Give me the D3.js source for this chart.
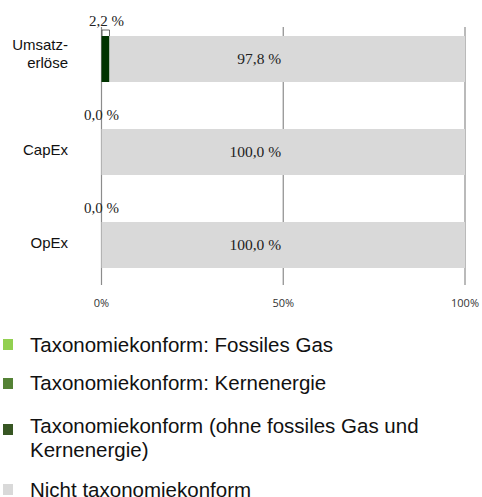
<!DOCTYPE html>
<html>
<head>
<meta charset="utf-8">
<script src="https://cdn.jsdelivr.net/npm/d3@7"></script>
<style>
  body { margin: 0; background: #fff; }
</style>
</head>
<body>
<div id="d3-container"></div>
<script>
/**
 * CONSTANTS AND DATA
 * */
const width = 482,
  height = 497;

const categories = [["Umsatz-", "erlöse"], ["CapEx"], ["OpEx"]];
const fossilGas = [0, 0, 0];
const nuclear = [0, 0, 0];
const alignedOther = [2.2, 0.0, 0.0];
const notAligned = [97.8, 100.0, 100.0];
const xTicks = [0, 50, 100];
const legendLabels = [
  ["Taxonomiekonform: Fossiles Gas"],
  ["Taxonomiekonform: Kernenergie"],
  ["Taxonomiekonform (ohne fossiles Gas und", "Kernenergie)"],
  ["Nicht taxonomiekonform"]
];
const legendColors = ["#92d050", "#548235", "#375623", "#d9d9d9"];

const fmt = v => d3.format(".1f")(v).replace(".", ",") + " %";

const svg = d3.select("#d3-container")
  .append("svg")
  .attr("width", width)
  .attr("height", height);

// scales
const x = d3.scaleLinear().domain([0, 100]).range([101.5, 465]);
const y = d3.scaleBand()
  .domain(d3.range(categories.length))
  .range([36, 268])
  .paddingInner(47 / 93)
  .paddingOuter(0);

// gridlines
svg.append("g")
  .selectAll("line")
  .data(xTicks)
  .join("line")
  .attr("x1", d => x(d))
  .attr("x2", d => x(d))
  .attr("y1", 27)
  .attr("y2", 285)
  .attr("stroke", "#8c8c8c")
  .attr("stroke-width", 1.2);

// tick labels
svg.append("g")
  .selectAll("text")
  .data(xTicks)
  .join("text")
  .attr("x", d => x(d))
  .attr("y", 307)
  .attr("text-anchor", "middle")
  .attr("font-family", "'Open Sans', sans-serif")
  .attr("font-size", 11)
  .attr("fill", "#333")
  .text(d => d + "%");

// stacked bars
const rows = categories.map((c, i) => {
  const segs = [
    { v: fossilGas[i], color: "#92d050" },
    { v: nuclear[i], color: "#548235" },
    { v: alignedOther[i], color: "#003300" },
    { v: notAligned[i], color: "#d9d9d9" }
  ];
  let acc = 0;
  segs.forEach(s => { s.x0 = acc; acc += s.v; s.x1 = acc; });
  return { i, segs };
});

const rowG = svg.append("g")
  .selectAll("g")
  .data(rows)
  .join("g");

rowG.selectAll("rect")
  .data(d => d.segs.filter(s => s.v > 0).map(s => ({ ...s, i: d.i })))
  .join("rect")
  .attr("x", d => x(d.x0))
  .attr("width", d => x(d.x1) - x(d.x0))
  .attr("y", d => y(d.i))
  .attr("height", y.bandwidth())
  .attr("fill", d => d.color);

// big segment label (sits left of centre, as in the original)
rowG.append("text")
  .attr("x", d => (x(d.segs[3].x0) + x(d.segs[3].x1)) / 2 - 28)
  .attr("y", d => y(d.i) + y.bandwidth() / 2 + 5)
  .attr("text-anchor", "middle")
  .attr("font-family", "'Liberation Serif', serif")
  .attr("font-size", 15.5)
  .attr("fill", "#222")
  .text(d => fmt(d.segs[3].v));

// small segment label with connector
rowG.filter(d => d.segs[2].v > 0)
  .append("path")
  .attr("d", d => {
    const a = x(d.segs[2].x0) + 0.5, b = x(d.segs[2].x1), t = y(d.i);
    return `M${a},${t} V${t - 6} H${b} V${t}`;
  })
  .attr("fill", "none")
  .attr("stroke", "#444")
  .attr("stroke-width", 0.8);

rowG.append("text")
  .attr("x", d => (x(d.segs[2].x0) + x(d.segs[2].x1)) / 2 + (d.segs[2].v > 0 ? 1 : 0))
  .attr("y", d => y(d.i) - (d.segs[2].v > 0 ? 10 : 9))
  .attr("text-anchor", "middle")
  .attr("font-family", "'Liberation Serif', serif")
  .attr("font-size", 15)
  .attr("fill", "#222")
  .text(d => fmt(d.segs[2].v));

// category labels
rowG.append("text")
  .attr("text-anchor", "end")
  .attr("font-family", "'Liberation Sans', Arial, sans-serif")
  .attr("font-size", 15)
  .attr("fill", "#111")
  .each(function(d) {
    const lines = categories[d.i];
    const cy = y(d.i) + y.bandwidth() / 2;
    d3.select(this).selectAll("tspan")
      .data(lines)
      .join("tspan")
      .attr("x", 68)
      .attr("y", (l, k) => lines.length > 1 ? cy - 9.5 + k * 18 : cy + 3)
      .text(l => l);
  });

// legend
const legendY = [339, 378, 424, 484];
const textOff = [13, 12, 9, 13];
const leg = svg.append("g")
  .selectAll("g")
  .data(legendLabels)
  .join("g")
  .attr("transform", (d, i) => `translate(3,${legendY[i]})`);

leg.append("rect")
  .attr("width", 10)
  .attr("height", 11)
  .attr("fill", (d, i) => legendColors[i]);

leg.append("text")
  .attr("font-family", "'Liberation Sans', Arial, sans-serif")
  .attr("font-size", 20.5)
  .attr("fill", "#111")
  .each(function(d, i) {
    d3.select(this).selectAll("tspan")
      .data(d)
      .join("tspan")
      .attr("x", 27)
      .attr("y", (l, k) => textOff[i] + k * 24)
      .text(l => l);
  });
</script>
</body>
</html>
